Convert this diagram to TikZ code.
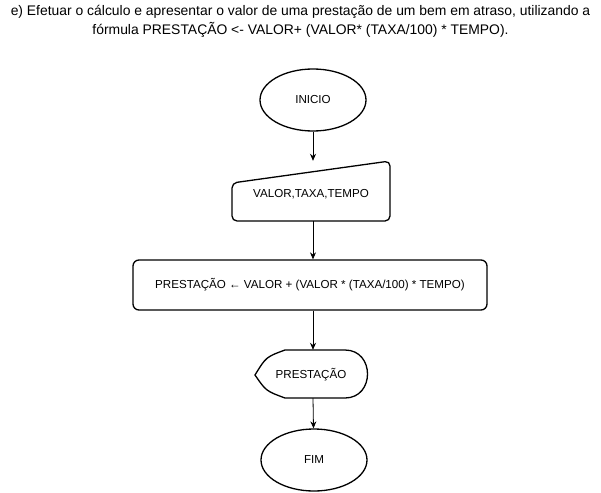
\documentclass[tikz,border=0pt]{standalone}
\usepackage{fontspec}
\setmainfont{Liberation Sans}
\usetikzlibrary{arrows.meta,shapes.geometric}
\begin{document}
\begin{tikzpicture}[x=1pt,y=-1pt,
  shp/.style={line width=1.3pt},
  conn/.style={line width=0.8pt,-{Stealth[length=7pt,width=6pt]}},
  lbl/.style={font=\fontsize{11.6}{13}\selectfont,inner sep=0pt},
  term/.style={ellipse,draw,shp,minimum width=106pt,minimum height=62pt,lbl}
]
\useasboundingbox (0,0) rectangle (601,492);
\node[font=\fontsize{13.9}{19}\selectfont,align=center] (title) at (300.5,21.5)
  {e) Efetuar o cálculo e apresentar o valor de uma prestação de um bem em atraso, utilizando a\\
   fórmula PRESTAÇÃO <- VALOR+ (VALOR* (TAXA/100) * TEMPO).};
\node[term] (ini) at (313,100) {INICIO};
\node[lbl,minimum width=158pt,minimum height=60pt] (inp) at (311,191) {};
\draw[shp,rounded corners=5pt] (232,183) -- (390,161) -- (390,221) -- (232,221) -- cycle;
\node[lbl] at (311,194) {VALOR,TAXA,TEMPO};
\node[rectangle,draw,shp,rounded corners=6pt,minimum width=354pt,minimum height=50pt,lbl] (proc) at (310,285)
  {PRESTAÇÃO ← VALOR + (VALOR * (TAXA/100) * TEMPO)};
\node[lbl,minimum width=112pt,minimum height=48pt] (disp) at (311,374) {};
\draw[shp] (255,375) .. controls (266,357) .. (285,350) -- (345,350)
  .. controls (375,350) and (375,398) .. (345,398) -- (285,398)
  .. controls (266,391) .. (255,375) -- cycle;
\node[lbl] at (311,375) {PRESTAÇÃO};
\node[term] (fim) at (314,460) {FIM};
\draw[conn] (ini) -- (inp.north -| ini.south);
\draw[conn] (inp.south -| ini.south) -- (proc.north -| ini.south);
\draw[conn] (proc.south -| ini.south) -- (disp.north -| ini.south);
\draw[conn] (disp.south -| ini.south) -- (fim);
\end{tikzpicture}
\end{document}
